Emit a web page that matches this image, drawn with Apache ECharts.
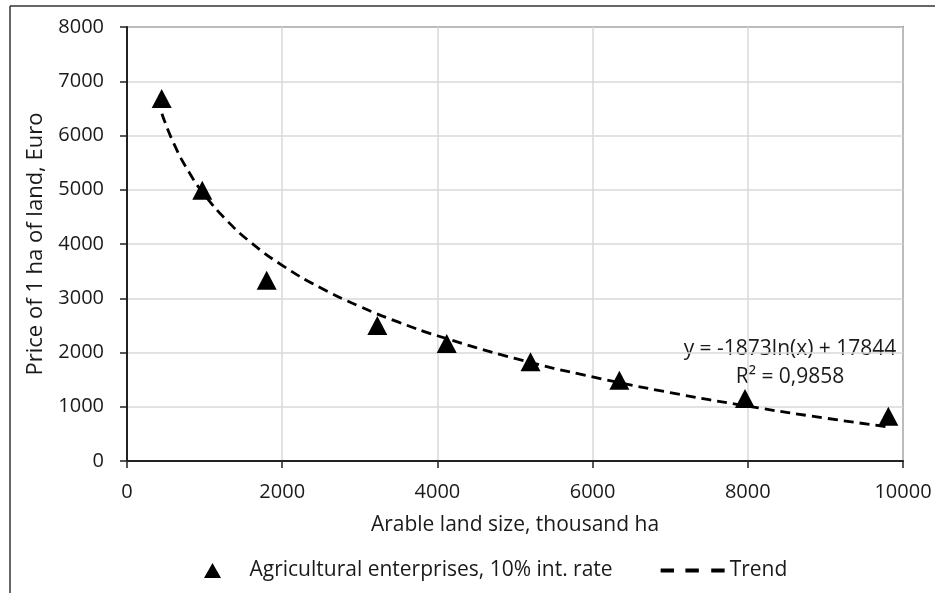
<!DOCTYPE html>
<html>
<head>
<meta charset="utf-8">
<script src="https://cdn.jsdelivr.net/npm/echarts@6/dist/echarts.min.js"></script>
<style>
  html, body { margin: 0; padding: 0; background: #fff; }
  #chart { width: 935px; height: 593px; }
</style>
</head>
<body>
<div id="chart"></div>
<script>
// Observed data points (arable land size, thousand ha; price of 1 ha, Euro)
const landSize = [447, 970, 1800, 3226, 4120, 5200, 6345, 7964, 9811];
const landPrice = [6680, 4990, 3330, 2500, 2165, 1830, 1488, 1150, 824];

// Trend curve points
const trendX = [450, 600, 800, 1000, 1300, 1600, 2000, 2500, 3000, 3500, 4000, 5000, 6000, 7000, 8000, 9000, 9800];
const trendY = [6402, 5862, 5323, 4906, 4414, 4025, 3607, 3189, 2849, 2559, 2309, 1891, 1550, 1261, 1011, 790, 631];

// Axis ticks
const xTicks = [0, 2000, 4000, 6000, 8000, 10000];
const yTicks = [0, 1000, 2000, 3000, 4000, 5000, 6000, 7000, 8000];

const seriesNames = ['Agricultural enterprises, 10% int. rate', 'Trend'];
const equationText = 'y = -1873ln(x) + 17844';
const r2Text = 'R² = 0,9858';

const FONT = 'Open Sans';
const TXT = '#1a1a1a';

const chart = echarts.init(document.getElementById('chart'), null, { renderer: 'canvas' });

const scatterData = landSize.map((x, i) => [x, landPrice[i]]);
const trendData = trendX.map((x, i) => [x, trendY[i]]);

chart.setOption({
  animation: false,
  backgroundColor: '#fff',
  textStyle: { fontFamily: FONT, color: TXT },
  grid: {
    left: 127, right: 32, top: 27, bottom: 132,
    show: true, borderColor: '#3a3a3a', borderWidth: 1.5, backgroundColor: 'transparent'
  },
  xAxis: {
    type: 'value',
    min: xTicks[0], max: xTicks[xTicks.length - 1], interval: 2000,
    name: 'Arable land size, thousand ha',
    nameLocation: 'middle', nameGap: 54,
    nameTextStyle: { fontFamily: FONT, fontSize: 21, color: TXT },
    axisLine: { show: true, onZero: false, lineStyle: { color: '#222', width: 2 } },
    axisTick: { show: true, inside: false, length: 7, lineStyle: { color: '#222', width: 1.5 } },
    axisLabel: { margin: 21, fontFamily: FONT, fontSize: 20, color: TXT, formatter: v => String(v) },
    splitLine: { show: true, lineStyle: { color: '#d9d9d9', width: 1.5 } }
  },
  yAxis: {
    type: 'value',
    min: yTicks[0], max: yTicks[yTicks.length - 1], interval: 1000,
    name: 'Price of 1 ha of land, Euro',
    nameLocation: 'middle', nameGap: 80,
    nameTextStyle: { fontFamily: FONT, fontSize: 22, color: TXT },
    axisLine: { show: true, onZero: false, lineStyle: { color: '#222', width: 2 } },
    axisTick: { show: true, inside: false, length: 7, lineStyle: { color: '#222', width: 1.5 } },
    axisLabel: { margin: 23, fontFamily: FONT, fontSize: 20, color: TXT, formatter: v => String(v) },
    splitLine: { show: true, lineStyle: { color: '#d9d9d9', width: 1.5 } }
  },
  legend: {
    left: 199, top: 555,
    itemWidth: 64, itemHeight: 15, itemGap: 48,
    symbolKeepAspect: true,
    textStyle: { fontFamily: FONT, fontSize: 21, color: TXT },
    data: [
      { name: seriesNames[0], icon: 'path://M8.5,0L17,15L0,15Z', itemStyle: { color: '#000', opacity: 1 } },
      { name: seriesNames[1], icon: 'path://M0,0h13v4h-13z M24,0h13v4h-13z M49,0h13v4h-13z', itemStyle: { color: '#000', opacity: 1 } }
    ]
  },
  series: [
    {
      name: seriesNames[1],
      type: 'line',
      data: trendData,
      smooth: true,
      showSymbol: false,
      symbol: 'none',
      lineStyle: { color: '#000', width: 2.8, type: [10, 6] },
      itemStyle: { color: '#000' },
      z: 3
    },
    {
      name: seriesNames[0],
      type: 'scatter',
      data: scatterData,
      symbol: 'triangle',
      symbolSize: [20, 19],
      itemStyle: { color: '#000', opacity: 1 },
      z: 4
    }
  ],
  graphic: [
    { type: 'line', shape: { x1: 10, y1: 6, x2: 935, y2: 6 }, style: { stroke: '#333', lineWidth: 1.5 }, silent: true },
    { type: 'line', shape: { x1: 10, y1: 6, x2: 10, y2: 593 }, style: { stroke: '#333', lineWidth: 1.5 }, silent: true },
    { type: 'text', x: 790, y: 349, style: { text: equationText, fontFamily: FONT, fontSize: 21, fill: TXT, align: 'center', verticalAlign: 'middle' } },
    { type: 'text', x: 790, y: 377, style: { text: r2Text, fontFamily: FONT, fontSize: 21, fill: TXT, align: 'center', verticalAlign: 'middle' } }
  ]
});
</script>
</body>
</html>
